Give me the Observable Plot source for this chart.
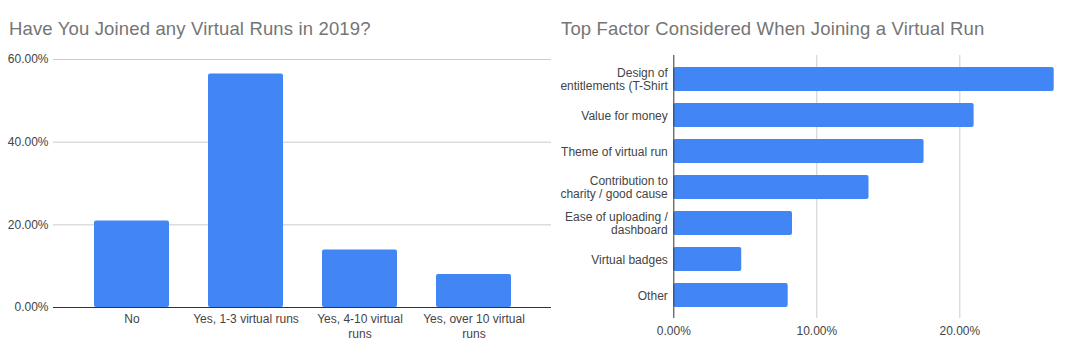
<!DOCTYPE html>
<html>
<head>
<meta charset="utf-8">
<script src="https://cdn.jsdelivr.net/npm/d3@7"></script>
<script src="https://cdn.jsdelivr.net/npm/@observablehq/plot@0.6"></script>
<style>
  html, body { margin: 0; padding: 0; background: #fff; }
  #wrap { position: relative; width: 1068px; height: 358px; overflow: hidden; font-family: "Liberation Sans", Arial, sans-serif; }
  .chart { position: absolute; top: 0; }
  .title { position: absolute; top: 17.5px; font-size: 18.5px; letter-spacing: 0.15px; line-height: 22px; color: #757575; white-space: nowrap; z-index: 2; }
  svg { background: transparent !important; }
</style>
</head>
<body>
<div id="wrap">
  <div id="left" class="chart" style="left:0px"></div>
  <div id="right" class="chart" style="left:555px"></div>
  <div class="title" style="left:9px">Have You Joined any Virtual Runs in 2019?</div>
  <div class="title" style="left:561px">Top Factor Considered When Joining a Virtual Run</div>
</div>
<script>
// Left chart data
const joinCategories = ["No", "Yes, 1-3 virtual runs", "Yes, 4-10 virtual runs", "Yes, over 10 virtual runs"];
const joinLabels = ["No", "Yes, 1-3 virtual runs", "Yes, 4-10 virtual\nruns", "Yes, over 10 virtual\nruns"];
const joinValues = [0.209, 0.565, 0.139, 0.080];
const joinTicks = [0, 0.2, 0.4, 0.6];

// Right chart data
const factorCategories = ["Design of entitlements (T-Shirt", "Value for money", "Theme of virtual run", "Contribution to charity / good cause", "Ease of uploading / dashboard", "Virtual badges", "Other"];
const factorLabels = ["Design of\nentitlements (T-Shirt", "Value for money", "Theme of virtual run", "Contribution to\ncharity / good cause", "Ease of uploading /\ndashboard", "Virtual badges", "Other"];
const factorValues = [0.266, 0.210, 0.175, 0.1365, 0.083, 0.0475, 0.080];
const factorTicks = [0, 0.1, 0.2];

const BLUE = "#4285F4";
const GRID = "#cccccc";
const AXIS = "#333333";
const LABEL = "#444444";
const FONT = "Liberation Sans, Arial, sans-serif";
const pct = d3.format(".2%");

const joinData = joinCategories.map((c, i) => ({category: c, label: joinLabels[i], value: joinValues[i]}));
const factorData = factorCategories.map((c, i) => ({category: c, label: factorLabels[i], value: factorValues[i]}));

const left = Plot.plot({
  width: 555,
  height: 358,
  marginLeft: 53,
  marginRight: 4,
  marginTop: 59,
  marginBottom: 51,
  style: {fontFamily: FONT, fontSize: "12px", background: "transparent", overflow: "visible"},
  x: {domain: joinCategories, paddingInner: 0.345, paddingOuter: 0.335, insetLeft: 1.5, axis: null},
  y: {domain: [0, 0.6], axis: null},
  marks: [
    Plot.ruleY(joinTicks.filter(d => d > 0), {stroke: GRID, strokeWidth: 1}),
    Plot.barY(joinData, {x: "category", y: "value", fill: BLUE, rx: 2}),
    Plot.ruleY([0], {stroke: AXIS, strokeWidth: 1}),
    Plot.text(joinTicks, {y: d => d, text: d => pct(d), frameAnchor: "left", textAnchor: "end", dx: -5, fill: LABEL, fontSize: 12}),
    Plot.text(joinData, {x: "category", text: "label", frameAnchor: "bottom", lineAnchor: "top", dy: 6, lineHeight: 1.17, fill: LABEL, fontSize: 12})
  ]
});
document.getElementById("left").appendChild(left);

const right = Plot.plot({
  width: 513,
  height: 358,
  marginLeft: 118.3,
  marginRight: 10,
  marginTop: 55,
  marginBottom: 40,
  style: {fontFamily: FONT, fontSize: "12px", background: "transparent", overflow: "visible"},
  x: {domain: [0, 0.269], axis: null},
  y: {domain: factorCategories, paddingInner: 0.342, paddingOuter: 0.18, insetTop: 3.5, insetBottom: 3, axis: null},
  marks: [
    Plot.ruleX(factorTicks.filter(d => d > 0), {stroke: GRID, strokeWidth: 1}),
    Plot.barX(factorData, {y: "category", x: "value", fill: BLUE, rx: 2}),
    Plot.ruleX([0], {stroke: AXIS, strokeWidth: 1}),
    Plot.text(factorTicks, {x: d => d, text: d => pct(d), frameAnchor: "bottom", lineAnchor: "top", dy: 8, fill: LABEL, fontSize: 12}),
    Plot.text(factorData, {y: "category", text: "label", frameAnchor: "left", textAnchor: "end", lineAnchor: "middle", dx: -6, lineHeight: 1.1, fill: LABEL, fontSize: 12})
  ]
});
document.getElementById("right").appendChild(right);
</script>
</body>
</html>
